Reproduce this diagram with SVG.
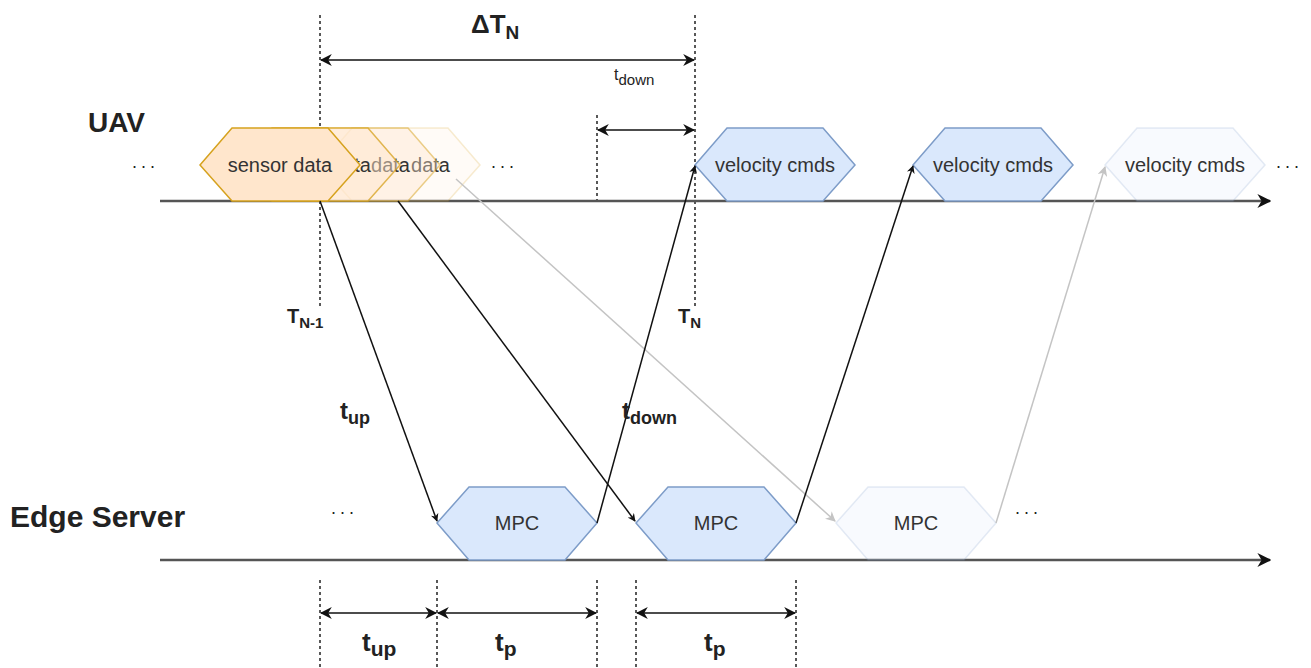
<svg xmlns="http://www.w3.org/2000/svg" width="1311" height="668" viewBox="0 0 1311 668">
  <style>
    .lbl { font-family: "Liberation Sans", Arial, sans-serif; fill: #222; }
    .hexlbl { font-family: "Liberation Sans", Arial, sans-serif; font-size: 20px; fill: #333; text-anchor: middle; }
    .tail { font-family: "Liberation Sans", Arial, sans-serif; font-size: 20px; fill: #333; text-anchor: end; }
    .bold { font-weight: bold; }
    .dash { stroke: #222; stroke-width: 1.5; stroke-dasharray: 3 3; fill: none; }
    .timeline { stroke: #555; stroke-width: 2.5; fill: none; }
    .msg { stroke: #111; stroke-width: 1.5; fill: none; }
    .msg-faint { stroke: #c4c4c4; stroke-width: 1.5; fill: none; }
    .span { stroke: #111; stroke-width: 1.5; fill: none; }
    .orange { fill: #ffe6cc; stroke: #d6a21e; stroke-width: 1.5; }
    .blue { fill: #dae8fc; stroke: #7d9cc8; stroke-width: 1.5; }
    .dots { font-family: "Liberation Sans", Arial, sans-serif; font-size: 18px; fill: #222; letter-spacing: 4px; }
  </style>
  <defs>
    <marker id="arrow" viewBox="0 0 10 10" refX="9" refY="5" markerWidth="8" markerHeight="8" markerUnits="userSpaceOnUse" orient="auto-start-reverse">
      <path d="M0,0 L10,5 L0,10 L3,5 z" fill="#111"/>
    </marker>
    <marker id="arrow-big" viewBox="0 0 10 10" refX="9" refY="5" markerWidth="12" markerHeight="12" markerUnits="userSpaceOnUse" orient="auto-start-reverse">
      <path d="M0,0 L10,5 L0,10 L3,5 z" fill="#111"/>
    </marker>
    <marker id="arrow-faint" viewBox="0 0 10 10" refX="9" refY="5" markerWidth="10" markerHeight="10" markerUnits="userSpaceOnUse" orient="auto">
      <path d="M0,0 L10,5 L0,10 L3,5 z" fill="#c4c4c4"/>
    </marker>
    <marker id="arrow-timeline" viewBox="0 0 10 10" refX="9" refY="5" markerWidth="14" markerHeight="14" markerUnits="userSpaceOnUse" orient="auto">
      <path d="M0,0 L10,5 L0,10 L3,5 z" fill="#111"/>
    </marker>
  </defs>
  <rect width="1311" height="668" fill="#ffffff"/>

  <!-- time markers (dashed guides) -->
  <g id="guides">
    <line class="dash" x1="320" y1="15" x2="320" y2="307"/>
    <line class="dash" x1="695" y1="15" x2="695" y2="308"/>
    <line class="dash" x1="597" y1="115" x2="597" y2="201"/>
    <line class="dash" x1="320" y1="580" x2="320" y2="668"/>
    <line class="dash" x1="437" y1="580" x2="437" y2="668"/>
    <line class="dash" x1="597" y1="580" x2="597" y2="668"/>
    <line class="dash" x1="636" y1="580" x2="636" y2="668"/>
    <line class="dash" x1="796" y1="580" x2="796" y2="668"/>
  </g>

  <!-- lifelines -->
  <g id="timelines">
    <line class="timeline" x1="160" y1="201" x2="1270" y2="201" marker-end="url(#arrow-timeline)"/>
    <line class="timeline" x1="160" y1="560" x2="1270" y2="560" marker-end="url(#arrow-timeline)"/>
  </g>

  <!-- lane labels -->
  <g id="lane-uav">
    <text class="lbl bold" x="88" y="132" font-size="28">UAV</text>
    <text class="dots" x="132" y="168">...</text>
  </g>
  <g id="lane-edge">
    <text class="lbl bold" x="10" y="527" font-size="30">Edge Server</text>
    <text class="dots" x="331" y="514">...</text>
  </g>

  <!-- sensor data packets stacked behind each other, later ones fading out;
       only the tail of each hidden label shows past the packet in front -->
  <g id="sensor-data-4">
    <polygon points="320,165 352,128 448,128 480,165 448,201 352,201" class="orange" fill-opacity="0.15" stroke-opacity="0.2"/>
    <text class="tail" x="450" y="172">data</text>
  </g>
  <g id="sensor-data-3">
    <polygon points="280,165 312,128 408,128 440,165 408,201 312,201" class="orange" fill-opacity="0.4" stroke-opacity="0.5"/>
    <text class="tail" x="410" y="172">data</text>
  </g>
  <g id="sensor-data-2">
    <polygon points="240,165 272,128 368,128 400,165 368,201 272,201" class="orange" fill-opacity="0.5" stroke-opacity="0.75"/>
    <text class="tail" x="371" y="172">ta</text>
  </g>
  <g id="sensor-data-1">
    <polygon points="200,165 232,128 328,128 360,165 328,201 232,201" class="orange"/>
    <text class="hexlbl" x="280" y="172">sensor data</text>
  </g>
  <g id="uav-dots">
    <text class="dots" x="491" y="168">...</text>
    <text class="dots" x="1276" y="168">...</text>
  </g>

  <!-- velocity commands on the UAV -->
  <g id="velocity-cmds-1">
    <polygon points="695,165 727,128 823,128 855,165 823,201 727,201" class="blue"/>
    <text class="hexlbl" x="775" y="172">velocity cmds</text>
  </g>
  <g id="velocity-cmds-2">
    <polygon points="913,165 945,128 1041,128 1073,165 1041,201 945,201" class="blue"/>
    <text class="hexlbl" x="993" y="172">velocity cmds</text>
  </g>
  <g id="velocity-cmds-3">
    <polygon points="1105,165 1137,128 1233,128 1265,165 1233,201 1137,201" class="blue" fill-opacity="0.2" stroke-opacity="0.2"/>
    <text class="hexlbl" x="1185" y="172" fill="#444">velocity cmds</text>
  </g>

  <!-- MPC runs on the edge server -->
  <g id="mpc-1">
    <polygon points="437,523 469,487 565,487 597,523 565,560 469,560" class="blue"/>
    <text class="hexlbl" x="517" y="530">MPC</text>
  </g>
  <g id="mpc-2">
    <polygon points="636,523 668,487 764,487 796,523 764,560 668,560" class="blue"/>
    <text class="hexlbl" x="716" y="530">MPC</text>
  </g>
  <g id="mpc-3">
    <polygon points="836,523 868,487 964,487 996,523 964,560 868,560" class="blue" fill-opacity="0.2" stroke-opacity="0.2"/>
    <text class="hexlbl" x="916" y="530" fill="#444">MPC</text>
  </g>
  <g id="edge-dots">
    <text class="dots" x="1015" y="514">...</text>
  </g>

  <!-- uplink / downlink messages -->
  <g id="connectors">
    <line class="msg" x1="320" y1="201" x2="437" y2="521" marker-end="url(#arrow)"/>
    <line class="msg" x1="398" y1="201" x2="635" y2="521" marker-end="url(#arrow)"/>
    <line class="msg-faint" x1="456" y1="179" x2="835" y2="521" marker-end="url(#arrow-faint)"/>
    <line class="msg" x1="597" y1="523" x2="695" y2="166" marker-end="url(#arrow)"/>
    <line class="msg" x1="796" y1="523" x2="913" y2="166" marker-end="url(#arrow)"/>
    <line class="msg-faint" x1="996" y1="523" x2="1105" y2="167" marker-end="url(#arrow-faint)"/>

    <!-- interval spans -->
    <line class="span" x1="321" y1="60" x2="694" y2="60" marker-start="url(#arrow-big)" marker-end="url(#arrow-big)"/>
    <line class="span" x1="598" y1="130" x2="694" y2="130" marker-start="url(#arrow-big)" marker-end="url(#arrow-big)"/>
    <line class="span" x1="321" y1="613" x2="436" y2="613" marker-start="url(#arrow-big)" marker-end="url(#arrow-big)"/>
    <line class="span" x1="438" y1="613" x2="596" y2="613" marker-start="url(#arrow-big)" marker-end="url(#arrow-big)"/>
    <line class="span" x1="637" y1="613" x2="795" y2="613" marker-start="url(#arrow-big)" marker-end="url(#arrow-big)"/>
  </g>

  <!-- timing labels -->
  <g id="labels">
    <text class="lbl bold" x="471" y="33" font-size="26">ΔT<tspan font-size="19" dy="6">N</tspan></text>
    <text class="lbl" x="614" y="80" font-size="16">t<tspan font-size="15" dy="5">down</tspan></text>
    <text class="lbl bold" x="287" y="323" font-size="20">T<tspan font-size="15" dy="5">N-1</tspan></text>
    <text class="lbl bold" x="678" y="323" font-size="20">T<tspan font-size="15" dy="5">N</tspan></text>
    <text class="lbl bold" x="340" y="419" font-size="24">t<tspan font-size="18" dy="5">up</tspan></text>
    <text class="lbl bold" x="622" y="419" font-size="24">t<tspan font-size="18" dy="5">down</tspan></text>
    <text class="lbl bold" x="362" y="651" font-size="26">t<tspan font-size="21" dy="5">up</tspan></text>
    <text class="lbl bold" x="495" y="651" font-size="26">t<tspan font-size="21" dy="5">p</tspan></text>
    <text class="lbl bold" x="704" y="651" font-size="26">t<tspan font-size="21" dy="5">p</tspan></text>
  </g>
</svg>
